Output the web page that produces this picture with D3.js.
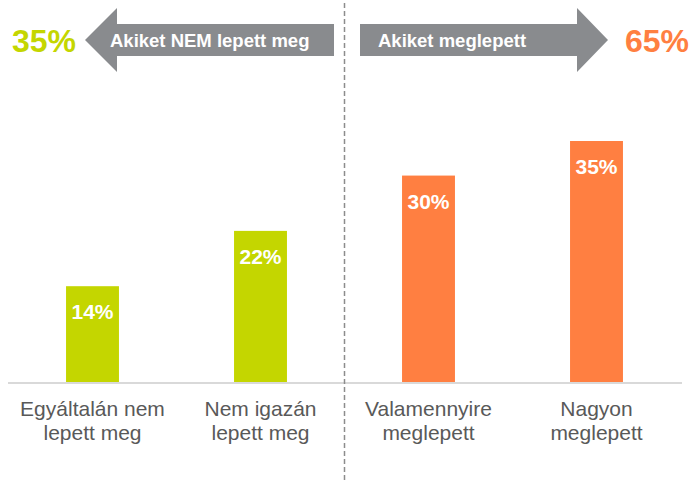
<!DOCTYPE html>
<html>
<head>
<meta charset="utf-8">
<script src="https://cdn.jsdelivr.net/npm/d3@7"></script>
<style>
  html, body { margin: 0; padding: 0; background: #fff; }
  svg { display: block; font-family: "Liberation Sans", Arial, sans-serif; }
</style>
</head>
<body>
<svg id="chart" width="691" height="481"></svg>
<script>
// Survey answers: how surprised respondents were
const categories = [
  ["Egyáltalán nem", "lepett meg"],
  ["Nem igazán", "lepett meg"],
  ["Valamennyire", "meglepett"],
  ["Nagyon", "meglepett"]
];
const values = [14, 22, 30, 35];
const groups = ["nem", "nem", "igen", "igen"];

// Group totals shown beside the arrows
const groupLabels = ["Akiket NEM lepett meg", "Akiket meglepett"];
const groupTotals = ["35%", "65%"];

const colors = { nem: "#c4d600", igen: "#ff7f41" };
const arrowColor = "#898b8e";
const textGray = "#595959";

const svg = d3.select("#chart");
const baseY = 383;

const x = d3.scaleBand()
  .domain(d3.range(values.length))
  .range([8.5, 680.5])
  .paddingInner(0.685)
  .paddingOuter(0.3425);

const y = d3.scaleLinear()
  .domain([0, 35])
  .range([baseY, 141]);

// bars
svg.selectAll("rect.bar")
  .data(values)
  .join("rect")
  .attr("class", "bar")
  .attr("x", (d, i) => x(i))
  .attr("width", x.bandwidth())
  .attr("y", d => y(d))
  .attr("height", d => y(0) - y(d))
  .attr("fill", (d, i) => colors[groups[i]]);

// baseline
svg.append("line")
  .attr("x1", 8).attr("x2", 682)
  .attr("y1", baseY).attr("y2", baseY)
  .attr("stroke", "#d9d9d9").attr("stroke-width", 2);

// value labels inside bars
svg.selectAll("text.val")
  .data(values)
  .join("text")
  .attr("class", "val")
  .attr("x", (d, i) => x(i) + x.bandwidth() / 2)
  .attr("y", d => y(d) + 33)
  .attr("text-anchor", "middle")
  .attr("fill", "#fff")
  .attr("font-weight", "bold")
  .attr("font-size", 21)
  .text(d => d + "%");

// category labels
const cat = svg.selectAll("text.cat")
  .data(categories)
  .join("text")
  .attr("class", "cat")
  .attr("text-anchor", "middle")
  .attr("fill", textGray)
  .attr("font-size", 21);
cat.each(function (lines, i) {
  const t = d3.select(this);
  lines.forEach((ln, k) => {
    t.append("tspan")
      .attr("x", x(i) + x.bandwidth() / 2)
      .attr("y", 416 + k * 24)
      .text(ln);
  });
});

// dashed divider between the two groups
const divX = (x(1) + x.bandwidth() + x(2)) / 2;
svg.append("line")
  .attr("x1", divX).attr("x2", divX)
  .attr("y1", 3).attr("y2", 480)
  .attr("stroke", "#8c8c8c").attr("stroke-width", 1.5)
  .attr("stroke-dasharray", "5,3");

// arrows
const leftArrow = [[334, 24], [117, 24], [117, 8], [85, 40], [117, 72], [117, 56], [334, 56]];
const rightArrow = [[360, 24], [577, 24], [577, 8], [608, 40], [577, 72], [577, 56], [360, 56]];
svg.selectAll("polygon.arrow")
  .data([leftArrow, rightArrow])
  .join("polygon")
  .attr("class", "arrow")
  .attr("points", d => d.map(p => p.join(",")).join(" "))
  .attr("fill", arrowColor);

svg.selectAll("text.grp")
  .data(groupLabels)
  .join("text")
  .attr("class", "grp")
  .attr("x", (d, i) => i === 0 ? 110 : 378)
  .attr("y", 47)
  .attr("fill", "#fff")
  .attr("font-weight", "bold")
  .attr("font-size", 18.5)
  .text(d => d);

svg.selectAll("text.tot")
  .data(groupTotals)
  .join("text")
  .attr("class", "tot")
  .attr("x", (d, i) => i === 0 ? 12 : 625)
  .attr("y", 52)
  .attr("fill", (d, i) => i === 0 ? colors.nem : colors.igen)
  .attr("font-weight", "bold")
  .attr("font-size", 32)
  .text(d => d);
</script>
</body>
</html>
